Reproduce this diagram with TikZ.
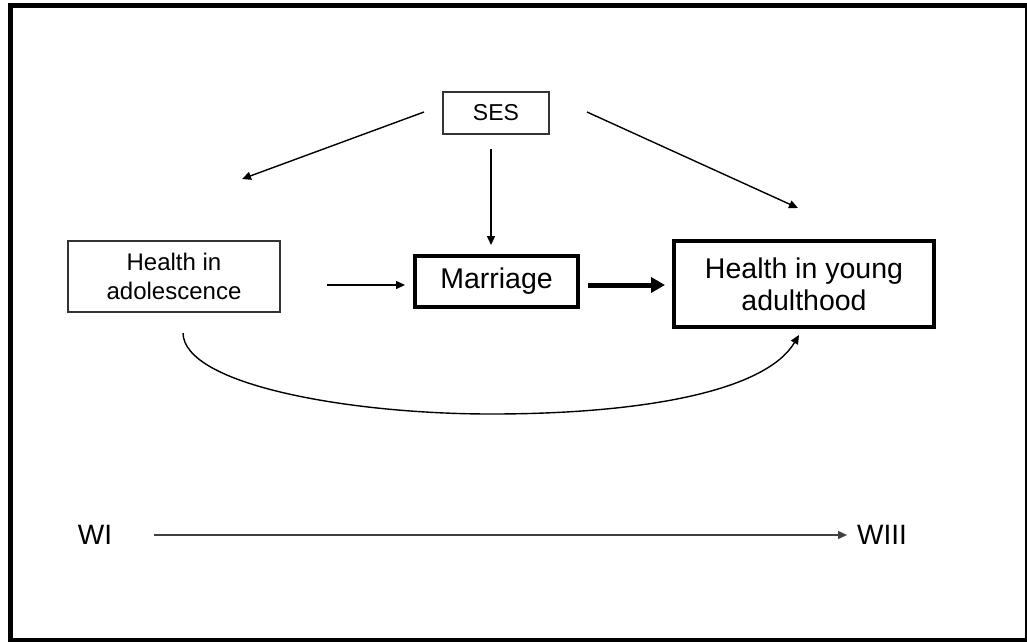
\documentclass[tikz,border=0pt]{standalone}
\usepackage{fontspec}
\setmainfont{Liberation Sans}
\usetikzlibrary{arrows.meta}
\tikzset{
  thinbox/.style={draw=black!80, line width=1.3pt, inner sep=0pt, align=center},
  thickbox/.style={draw=black, line width=4pt, inner sep=0pt, align=center},
  arr/.style={draw=black, line width=1.4pt, -{Triangle[length=9pt,width=8pt]}},
  bigarr/.style={draw=black, line width=5pt, -{Triangle[length=14pt,width=15pt]}},
  lbl/.style={inner sep=0pt, font=\fontsize{28}{32}\selectfont}
}
\begin{document}
\begin{tikzpicture}[x=1pt,y=-1pt]
\useasboundingbox (0,0) rectangle (1027,641);
\fill[white] (0,0) rectangle (1027,641);
\draw[line width=5pt] (10.5,5.5) rectangle (1027,640);

\node[thinbox, minimum width=106pt, minimum height=42pt, font=\fontsize{23}{27}\selectfont] (ses) at (496,113) {SES};
\node[thinbox, minimum width=212pt, minimum height=71pt, font=\fontsize{24}{29}\selectfont] (ha) at (174,276.5) {Health in\\adolescence};
\node[thickbox, minimum width=163pt, minimum height=51pt, font=\fontsize{28.5}{32}\selectfont] (mar) at (496.5,281.5) {Marriage};
\node[thickbox, minimum width=260pt, minimum height=86pt, font=\fontsize{28.5}{32}\selectfont] (hya) at (804,284) {Health in young\\adulthood};

\node[lbl] (wi) at (95,535) {WI};
\node[lbl] (wiii) at (882,535) {WIII};

% free arrow ends
\coordinate (sesL) at (424,112);
\coordinate (haT) at (242,179);
\coordinate (sesB) at (491,149);
\coordinate (marT) at (491,245);
\coordinate (sesR) at (587,112);
\coordinate (hyaT) at (798,208);
\coordinate (haR) at (327,285);
\coordinate (marL) at (405,285);
\coordinate (marR) at (588,285);
\coordinate (hyaL) at (665,285);
\coordinate (haB) at (183,333);
\coordinate (low) at (491,414);
\coordinate (hyaB) at (799,335);
\coordinate (t1) at (154,535);
\coordinate (t2) at (847,535);

\draw[arr] (sesL) -- (haT);
\draw[arr] (sesB) -- (marT);
\draw[arr] (sesR) -- (hyaT);
\draw[arr] (haR) -- (marL);
\draw[bigarr] (marR) -- (hyaL);
\draw[arr] (haB) .. controls (184,385) and (350,414) .. (low)
               .. controls (640,414) and (765,392) .. (hyaB);
\draw[arr, draw=black!75] (t1) -- (t2);
\end{tikzpicture}
\end{document}
